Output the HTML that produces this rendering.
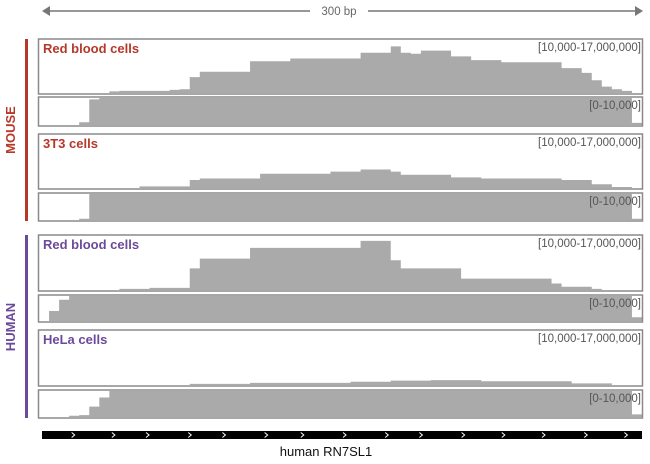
<!DOCTYPE html>
<html><head><meta charset="utf-8"><style>
body{margin:0;background:#fff;}
svg text{font-family:"Liberation Sans",Arial,sans-serif;}
</style></head><body>
<svg id="chart" width="650" height="459" viewBox="0 0 650 459" xmlns="http://www.w3.org/2000/svg">
  <g>
    <line x1="48" y1="11" x2="310" y2="11" stroke="#777" stroke-width="1.5"/>
    <line x1="368" y1="11" x2="636" y2="11" stroke="#777" stroke-width="1.5"/>
    <polygon points="42,11 50,6 50,16" fill="#777"/>
    <polygon points="643,11 635,6 635,16" fill="#777"/>
    <text x="339" y="15" font-size="11.5" fill="#666" text-anchor="middle">300 bp</text>
  </g>
  <g>
    <rect x="25" y="39" width="3" height="182" fill="#b5382a"/>
    <text transform="translate(15,130) rotate(-90)" font-size="13" font-weight="bold" fill="#b5382a" text-anchor="middle">MOUSE</text>
  </g>
  <g>
    <rect x="25" y="235" width="3" height="183" fill="#6b4a9b"/>
    <text transform="translate(15,327) rotate(-90)" font-size="13" font-weight="bold" fill="#6b4a9b" text-anchor="middle">HUMAN</text>
  </g>
  <g id="tracks"></g>
  <g id="gene"></g>
  <text x="326" y="456" font-size="13" fill="#111" text-anchor="middle">human RN7SL1</text>
</svg>
<script>
// coverage in % of track range, 60 bins of 5 bp over 300 bp
const mouseRbcHigh = [0,0,0,0,0,0,0,3,4,4,4,4,4,6,7,30,40,40,40,40,40,60,60,60,60,65,65,65,65,65,65,65,76,76,76,88,76,74,80,80,80,69,69,62,62,62,58,58,58,58,58,58,47,47,38,24,12,7,4,0];
const mouseRbcLow = [0,0,0,0,10,95,100,100,100,100,100,100,100,100,100,100,100,100,100,100,100,100,100,100,100,100,100,100,100,100,100,100,100,100,100,100,100,100,100,100,100,100,100,100,100,100,100,100,100,100,100,100,100,100,100,100,100,100,100,8];
const mouse3t3High = [0,0,0,0,0,0,0,0,0,0,3,3,3,3,3,15,18,18,18,18,18,18,27,27,27,27,27,27,27,31,31,31,35,35,35,31,25,25,25,25,25,20,20,20,18,18,18,18,18,18,18,18,15,15,15,7,7,2,2,0];
const mouse3t3Low = [0,0,0,0,5,100,100,100,100,100,100,100,100,100,100,100,100,100,100,100,100,100,100,100,100,100,100,100,100,100,100,100,100,100,100,100,100,100,100,100,100,100,100,100,100,100,100,100,100,100,100,100,100,100,100,100,100,100,100,5];
const humanRbcHigh = [0,0,0,0,0,0,0,0,2,2,2,4,4,4,4,40,58,58,58,58,58,78,78,78,78,78,78,78,78,78,78,78,91,91,91,55,40,40,40,40,40,40,21,21,21,21,21,21,21,21,21,12,6,6,6,2,0,0,0,0];
const humanRbcLow = [0,40,85,100,100,100,100,100,100,100,100,100,100,100,100,100,100,100,100,100,100,100,100,100,100,100,100,100,100,100,100,100,100,100,100,100,100,100,100,100,100,100,100,100,100,100,100,100,100,100,100,100,100,100,100,100,100,100,100,15];
const helaHigh = [0,0,0,0,0,0,0,0,0,0,0,0,0,0,0,2,2,2,2,2,2,4,4,4,4,4,4,4,4,4,4,6,6,6,6,8,8,8,8,9,9,9,9,9,7,7,7,7,7,7,7,7,7,3,3,3,3,0,0,0];
const helaLow = [0,0,0,5,7,40,75,100,100,100,100,100,100,100,100,100,100,100,100,100,100,100,100,100,100,100,100,100,100,100,100,100,100,100,100,100,100,100,100,100,100,100,100,100,100,100,100,100,100,100,100,100,100,100,100,100,100,100,100,10];
const trackLabels = ["Red blood cells","","3T3 cells","","Red blood cells","","HeLa cells",""];
const rangeLabels = ["[10,000-17,000,000]","[0-10,000]","[10,000-17,000,000]","[0-10,000]","[10,000-17,000,000]","[0-10,000]","[10,000-17,000,000]","[0-10,000]"];
const chevronBp = [17,37,54,75,92,113,131,152,173,190,211,231,251,272,292];

const NS="http://www.w3.org/2000/svg";
const X0=39, X1=642, BP=300;
const X = bp => X0 + bp/BP*(X1-X0);
const series=[mouseRbcHigh,mouseRbcLow,mouse3t3High,mouse3t3Low,humanRbcHigh,humanRbcLow,helaHigh,helaLow];
const tops=[39,97,134,193,235,295,330,390];
const bots=[94,126,189,221,291,322,386,418];
const colors=["#b5382a","","#b5382a","","#6b4a9b","","#6b4a9b",""];
const names=["mouse-rbc-coverage","mouse-rbc-low-coverage","mouse-3t3-coverage","mouse-3t3-low-coverage","human-rbc-coverage","human-rbc-low-coverage","hela-coverage","hela-low-coverage"];
const tracks=document.getElementById('tracks');
series.forEach((vals,k)=>{
  const g=document.createElementNS(NS,'g');
  
  
  const top=tops[k]+1, base=bots[k]-1, h=base-top;
  const Y = v => base - v/100*h;
  let d=`M${X(0)},${base}`;
  vals.forEach((v,i)=>{ d+=` L${X(i*5)},${Y(v)} L${X((i+1)*5)},${Y(v)}`; });
  d+=` L${X(BP)},${base} Z`;
  const p=document.createElementNS(NS,'path');
  p.setAttribute('d',d); p.setAttribute('fill','#aaaaaa');
  
  
  g.appendChild(p);
  const r=document.createElementNS(NS,'rect');
  r.setAttribute('x',X0-0.5); r.setAttribute('y',tops[k]); r.setAttribute('width',X1-X0+1); r.setAttribute('height',bots[k]-tops[k]);
  r.setAttribute('fill','none'); r.setAttribute('stroke','#8a8a8a'); r.setAttribute('stroke-width','1.5');
  
  
  g.appendChild(r);
  if(trackLabels[k]){
    const t=document.createElementNS(NS,'text');
    t.setAttribute('x',43); t.setAttribute('y',tops[k]+14);
    t.setAttribute('font-size','13'); t.setAttribute('font-weight','bold'); t.setAttribute('fill',colors[k]);
    t.textContent=trackLabels[k];
    
    
    g.appendChild(t);
  }
  const rl=document.createElementNS(NS,'text');
  rl.setAttribute('x',X1-1); rl.setAttribute('y',tops[k]+12);
  rl.setAttribute('font-size','11.5'); rl.setAttribute('fill','#555'); rl.setAttribute('text-anchor','end');
  rl.textContent=rangeLabels[k];
  
  
  g.appendChild(rl);
  tracks.appendChild(g);
});
const gene=document.getElementById('gene');
const bar=document.createElementNS(NS,'rect');
bar.setAttribute('x',42); bar.setAttribute('y',431); bar.setAttribute('width',600); bar.setAttribute('height',8); bar.setAttribute('fill','#000');


gene.appendChild(bar);
chevronBp.forEach(b=>{
  const x=X(b);
  const c=document.createElementNS(NS,'polyline');
  c.setAttribute('points',`${x-1.5},${432.5} ${x+1.5},435 ${x-1.5},${437.5}`);
  c.setAttribute('fill','none'); c.setAttribute('stroke','#fff'); c.setAttribute('stroke-width','1');
  
  
  gene.appendChild(c);
});
</script>
</body></html>
